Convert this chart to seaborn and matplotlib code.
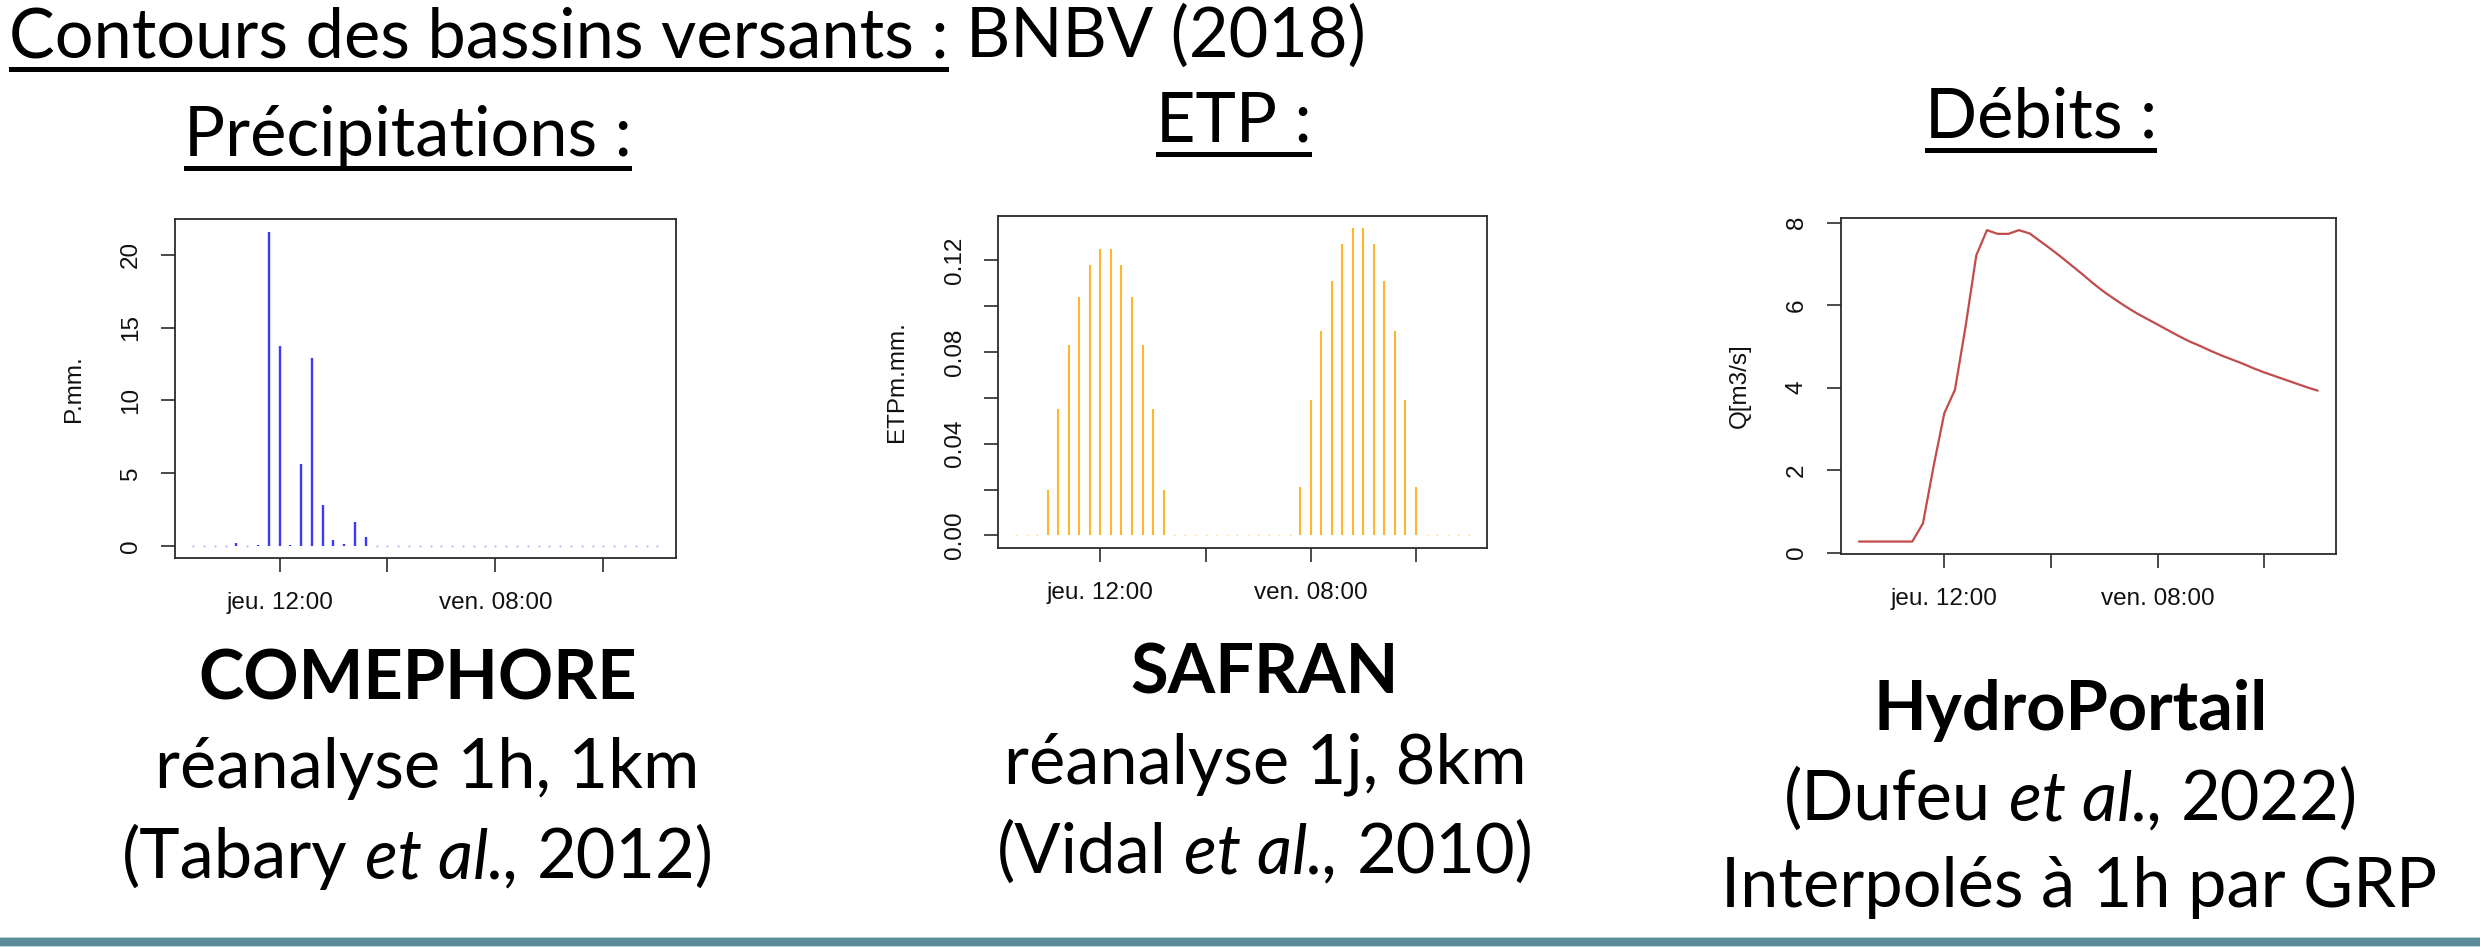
import numpy as np
import pandas as pd
import matplotlib
matplotlib.use("Agg")
import matplotlib.pyplot as plt
import matplotlib.dates as mdates
from matplotlib.patches import Rectangle
import seaborn as sns

# ------------------------------------------------------------------ data
start_time = "2021-06-17 04:00"          # jeudi 04:00, pas horaire
precip_mm = [0, 0, 0, 0, 0.2, 0, 0.08, 21.6, 13.7, 0.05, 5.6, 12.9, 2.8, 0.4,
             0.15, 1.6, 0.6, 0, 0, 0, 0, 0, 0, 0, 0, 0, 0, 0, 0, 0, 0, 0, 0,
             0, 0, 0, 0, 0, 0, 0, 0, 0, 0, 0]
etp_mm = [0, 0, 0, 0.02, 0.055, 0.083, 0.104, 0.118, 0.125, 0.125, 0.118,
          0.104, 0.083, 0.055, 0.02, 0, 0, 0, 0, 0, 0, 0, 0, 0, 0, 0, 0,
          0.021, 0.059, 0.089, 0.111, 0.127, 0.134, 0.134, 0.127, 0.111,
          0.089, 0.059, 0.021, 0, 0, 0, 0, 0]
q_m3s = [0.27, 0.27, 0.27, 0.27, 0.27, 0.27, 0.71, 2.10, 3.38, 3.95, 5.49,
         7.21, 7.82, 7.73, 7.73, 7.82, 7.74, 7.55, 7.36, 7.16, 6.95, 6.74,
         6.52, 6.32, 6.14, 5.97, 5.81, 5.67, 5.53, 5.39, 5.25, 5.12, 5.01,
         4.89, 4.78, 4.68, 4.58, 4.47, 4.37, 4.28, 4.19, 4.10, 4.01, 3.93]

x_tick_times = ["2021-06-17 12:00", "2021-06-17 22:00",
                "2021-06-18 08:00", "2021-06-18 18:00"]
x_tick_labels = ["jeu. 12:00", "", "ven. 08:00", ""]
p_yticks = [0, 5, 10, 15, 20]
p_yticklabels = ["0", "5", "10", "15", "20"]
etp_yticks = [0.00, 0.02, 0.04, 0.06, 0.08, 0.10, 0.12]
etp_yticklabels = ["0.00", "", "0.04", "", "0.08", "", "0.12"]
q_yticks = [0, 2, 4, 6, 8]
q_yticklabels = ["0", "2", "4", "6", "8"]
ylabels = ["P.mm.", "ETPm.mm.", "Q[m3/s]"]

title_underlined = "Contours des bassins versants :"
title_rest = " BNBV (2018)"
panel_titles = ["Précipitations :", "ETP :", "Débits :"]
source_names = ["COMEPHORE", "SAFRAN", "HydroPortail"]
source_line2 = ["réanalyse 1h, 1km", "réanalyse 1j, 8km", None]
source_refs = [("(Tabary ", "et al.,", " 2012)"),
               ("(Vidal ", "et al.,", " 2010)"),
               ("(Dufeu ", "et al.,", " 2022)")]
source_extra = "Interpolés à 1h par GRP"

# ------------------------------------------------------------------ setup
sns.set_theme(style="white")
plt.rcParams["font.family"] = ["Liberation Sans", "DejaVu Sans"]
SLIDE_FONT = ["Lato", "DejaVu Sans"]

W, H = 2480, 947
fig = plt.figure(figsize=(W / 100, H / 100), dpi=100)
fig.patch.set_facecolor("white")
renderer = fig.canvas.get_renderer()


def fx(x):
    return x / W


def fy(y):
    return 1 - y / H


df = pd.DataFrame({"time": pd.date_range(start_time, periods=len(precip_mm), freq="h"),
                   "P": precip_mm, "ETP": etp_mm, "Q": q_m3s})

TICK_FS = 17.5
FRAME_C = "#2b2b2b"


def r_style(ax, rect_px, yticks, yticklabels, ylabel, yvals):
    ax.set_facecolor("white")
    for s in ax.spines.values():
        s.set_visible(True)
        s.set_color(FRAME_C)
        s.set_linewidth(1.3)
    t = mdates.date2num(df["time"])
    span = t[-1] - t[0]
    ax.set_xlim(t[0] - 0.04 * span, t[-1] + 0.04 * span)
    lo, hi = min(yvals), max(yvals)
    ax.set_ylim(lo - 0.04 * (hi - lo), hi + 0.04 * (hi - lo))
    ax.set_xticks(mdates.date2num(pd.to_datetime(x_tick_times)))
    ax.set_xticklabels(x_tick_labels)
    ax.set_yticks(yticks)
    ax.set_yticklabels(yticklabels, rotation=90, va="center")
    ax.minorticks_off()
    ax.tick_params(axis="both", which="major", direction="out", length=10,
                   width=1.2, color=FRAME_C, labelsize=TICK_FS,
                   labelcolor="#111111", bottom=True, left=True, top=False, right=False)
    ax.tick_params(axis="x", pad=14.5)
    ax.tick_params(axis="y", pad=13.5)
    ax.grid(False)
    ax.set_xlabel("")
    ax.set_ylabel(ylabel, fontsize=TICK_FS, color="#111111")
    ax.yaxis.set_label_coords(-90.0 / rect_px[2], 0.5)


def add_axes_px(left, top, right, bottom):
    rect = [left / W, 1 - bottom / H, (right - left) / W, (bottom - top) / H]
    return fig.add_axes(rect), (left, top, right - left, bottom - top)


# --- Précipitations
ax1, r1 = add_axes_px(174.6, 219.0, 675.9, 558.3)
ax1.vlines(df["time"], 0, df["P"], color="#3a3aff", lw=1.7)
z = df[df["P"] == 0]
ax1.scatter(z["time"], z["P"], s=2.5, color="#b8b8ff", linewidths=0, zorder=3)
r_style(ax1, r1, p_yticks, p_yticklabels, ylabels[0], [0] + precip_mm)

# --- ETP
ax2, r2 = add_axes_px(998.2, 215.7, 1486.7, 547.7)
ax2.vlines(df["time"], 0, df["ETP"], color="#ffb52e", lw=1.5)
z = df[df["ETP"] == 0]
ax2.scatter(z["time"], z["ETP"], s=2.5, color="#ffe0a8", linewidths=0, zorder=3)
r_style(ax2, r2, etp_yticks, etp_yticklabels, ylabels[1], [0] + etp_mm)

# --- Débits
ax3, r3 = add_axes_px(1840.6, 217.7, 2336.0, 554.0)
sns.lineplot(data=df, x="time", y="Q", ax=ax3, color="#c24b4b", lw=1.6)
r_style(ax3, r3, q_yticks, q_yticklabels, ylabels[2], q_m3s)

# ------------------------------------------------------------------ slide text
UL_OFF = 10.5   # px below baseline
UL_TH = 5.0     # px thickness


def measure(s, size, weight="normal", style="normal"):
    t = fig.text(0, 0, s, fontsize=size, family=SLIDE_FONT, weight=weight, style=style)
    w = t.get_window_extent(renderer=renderer).width
    t.remove()
    return w


def layout(parts, size):
    sp = measure("n n", size) - measure("nn", size)
    items, total = [], 0.0
    for s, wt, st, ul in parts:
        lead = len(s) - len(s.lstrip(" "))
        trail = len(s) - len(s.rstrip(" "))
        core = s.strip(" ")
        w = measure(core, size, wt, st) if core else 0.0
        items.append((lead * sp, core, w, trail * sp, wt, st, ul))
        total += lead * sp + w + trail * sp
    return items, total


def draw_line(parts, size, baseline, cx=None, left=None):
    items, total = layout(parts, size)
    x = left if left is not None else cx - total / 2
    for lead, core, w, trail, wt, st, ul in items:
        x += lead
        if core:
            fig.text(fx(x), fy(baseline), core, fontsize=size, family=SLIDE_FONT,
                     weight=wt, style=st, ha="left", va="baseline", color="black")
            if ul:
                fig.patches.append(Rectangle((fx(x), fy(baseline + UL_OFF + UL_TH)),
                                             w / W, UL_TH / H, transform=fig.transFigure,
                                             color="black", lw=0))
        x += w + trail


N, B, I = "normal", "bold", "italic"
title_parts = [(title_underlined, N, N, True), (title_rest, N, N, False)]
head_parts = [[(t, N, N, True)] for t in panel_titles]
name_parts = [[(t, B, N, False)] for t in source_names]
ref_parts = [[(a, N, N, False), (b, N, I, False), (c, N, N, False)] for a, b, c in source_refs]
l2_parts = [[(t, N, N, False)] for t in source_line2 if t]
extra_parts = [(source_extra, N, N, False)]

# fit a common size to the measured widths of the reference
fit = [(title_parts, 1321), (head_parts[0], 451), (l2_parts[0], 542),
       (ref_parts[0], 596), (ref_parts[2], 586), (extra_parts, 720),
       (name_parts[0], 403), (name_parts[2], 383)]
s0 = 50.0
sizes = [s0 * tw / layout(p, s0)[1] for p, tw in fit]
FS = float(np.median(sizes))

draw_line(title_parts, FS, 57, left=9)
head_pos = [(408, 156), (1234, 142), (2041, 138)]
for p, (cx, by) in zip(head_parts, head_pos):
    draw_line(p, FS, by, cx=cx)

name_pos = [(418, 699), (1265, 693), (2071, 730)]
for p, (cx, by) in zip(name_parts, name_pos):
    draw_line(p, FS, by, cx=cx)

draw_line(l2_parts[0], FS, 788, cx=427)
draw_line(l2_parts[1], FS, 783, cx=1265)

ref_pos = [(418, 878), (1265, 873), (2071, 820)]
for p, (cx, by) in zip(ref_parts, ref_pos):
    draw_line(p, FS, by, cx=cx)
draw_line(extra_parts, FS, 907, cx=2079)

# bottom band of the slide
fig.patches.append(Rectangle((0, fy(947)), 1, 10 / H, transform=fig.transFigure,
                             color="#b9d0d6", lw=0))
fig.patches.append(Rectangle((0, fy(945.5)), 1, 7.5 / H, transform=fig.transFigure,
                             color="#5b8b98", lw=0))

fig.savefig("out.png", dpi=100, facecolor="white")
